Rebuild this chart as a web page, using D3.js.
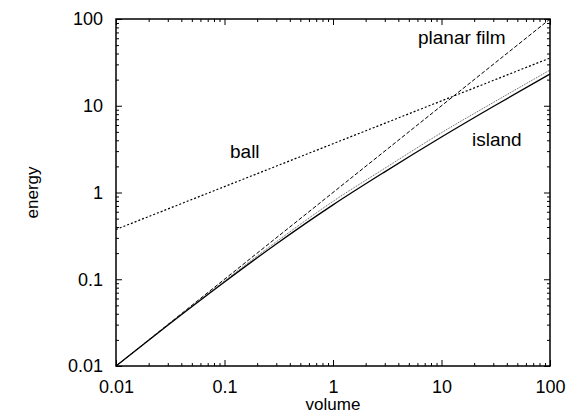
<!DOCTYPE html>
<html>
<head>
<meta charset="utf-8">
<script src="https://cdn.jsdelivr.net/npm/d3@7"></script>
<style>
  body { margin: 0; background: #fff; }
  svg { font-family: "Liberation Sans", Arial, Helvetica, sans-serif; }
  .axis path, .axis line { stroke: #000; }
  .axis text { font-size: 18px; fill: #000; }
</style>
</head>
<body>
<div id="chart"></div>
<script>
// values
var volume = [0.01, 0.03, 0.1, 0.3, 1, 3, 10, 30, 100];
var islandEnergy = [0.01, 0.0295, 0.093, 0.255, 0.72, 1.73, 4.36, 9.8, 23.2];
var approxEnergy = [0.01, 0.0298, 0.096, 0.27, 0.79, 1.9, 4.89, 10.9, 25.8];
var filmVolume = [0.01, 100];
var filmEnergy = [0.01, 100];
var ballVolume = [0.01, 100];
var ballEnergy = [0.375, 35.5];
var majorTicks = [0.01, 0.1, 1, 10, 100];
var tickLabels = ["0.01", "0.1", "1", "10", "100"];

var width = 572,
    height = 415,
    margin = {top: 19, right: 22, bottom: 49, left: 116};

var svg = d3.select("#chart").append("svg")
    .attr("width", width)
    .attr("height", height);

var x = d3.scaleLog().domain([0.01, 100]).range([margin.left, width - margin.right]);
var y = d3.scaleLog().domain([0.01, 100]).range([height - margin.bottom, margin.top]);

var minorTicks = [];
majorTicks.slice(0, -1).forEach(function(d) {
  for (var k = 2; k <= 9; k++) minorTicks.push(d * k);
});

function fmt(d) { return tickLabels[majorTicks.indexOf(d)]; }

// minor ticks on all four sides
svg.append("g").attr("class", "axis")
    .attr("transform", "translate(0," + y.range()[0] + ")")
    .call(d3.axisBottom(x).tickValues(minorTicks).tickSize(-3).tickFormat(""));
svg.append("g").attr("class", "axis")
    .attr("transform", "translate(0," + y.range()[1] + ")")
    .call(d3.axisTop(x).tickValues(minorTicks).tickSize(-3).tickFormat(""));
svg.append("g").attr("class", "axis")
    .attr("transform", "translate(" + x.range()[0] + ",0)")
    .call(d3.axisLeft(y).tickValues(minorTicks).tickSize(-3).tickFormat(""));
svg.append("g").attr("class", "axis")
    .attr("transform", "translate(" + x.range()[1] + ",0)")
    .call(d3.axisRight(y).tickValues(minorTicks).tickSize(-3).tickFormat(""));

// major ticks with labels
var xAxis = svg.append("g").attr("class", "axis")
    .attr("transform", "translate(0," + y.range()[0] + ")")
    .call(d3.axisBottom(x).tickValues(majorTicks).tickSizeInner(-6).tickSizeOuter(0).tickPadding(14).tickFormat(fmt));
svg.append("g").attr("class", "axis")
    .attr("transform", "translate(0," + y.range()[1] + ")")
    .call(d3.axisTop(x).tickValues(majorTicks).tickSizeInner(-6).tickSizeOuter(0).tickFormat(""));
var yAxis = svg.append("g").attr("class", "axis")
    .attr("transform", "translate(" + x.range()[0] + ",0)")
    .call(d3.axisLeft(y).tickValues(majorTicks).tickSizeInner(-6).tickSizeOuter(0).tickPadding(13).tickFormat(fmt));
svg.append("g").attr("class", "axis")
    .attr("transform", "translate(" + x.range()[1] + ",0)")
    .call(d3.axisRight(y).tickValues(majorTicks).tickSizeInner(-6).tickSizeOuter(0).tickFormat(""));

svg.selectAll(".axis .domain").remove();

// frame
svg.append("rect")
    .attr("x", x.range()[0])
    .attr("y", y.range()[1])
    .attr("width", x.range()[1] - x.range()[0])
    .attr("height", y.range()[0] - y.range()[1])
    .attr("fill", "none")
    .attr("stroke", "#000")
    .attr("stroke-width", 1.5);

var line = d3.line()
    .x(function(d) { return x(d[0]); })
    .y(function(d) { return y(d[1]); })
    .curve(d3.curveMonotoneX);

function pairs(xs, ys) { return xs.map(function(v, i) { return [v, ys[i]]; }); }

svg.append("path")
    .attr("d", line(pairs(ballVolume, ballEnergy)))
    .attr("fill", "none").attr("stroke", "#000")
    .attr("stroke-width", 1.2).attr("stroke-dasharray", "2,2");

svg.append("path")
    .attr("d", line(pairs(filmVolume, filmEnergy)))
    .attr("fill", "none").attr("stroke", "#000")
    .attr("stroke-width", 1).attr("stroke-dasharray", "4,2");

svg.append("path")
    .attr("d", line(pairs(volume, approxEnergy)))
    .attr("fill", "none").attr("stroke", "#555")
    .attr("stroke-width", 1).attr("stroke-dasharray", "1,1");

svg.append("path")
    .attr("d", line(pairs(volume, islandEnergy)))
    .attr("fill", "none").attr("stroke", "#000")
    .attr("stroke-width", 1.3);

// curve labels
svg.append("text").attr("x", 418).attr("y", 44).attr("font-size", 19).text("planar film");
svg.append("text").attr("x", 230).attr("y", 158).attr("font-size", 19).text("ball");
svg.append("text").attr("x", 472).attr("y", 146).attr("font-size", 19).text("island");

// axis titles
svg.append("text")
    .attr("x", (x.range()[0] + x.range()[1]) / 2)
    .attr("y", 410)
    .attr("text-anchor", "middle")
    .attr("font-size", 17)
    .text("volume");
svg.append("text")
    .attr("transform", "translate(38," + ((y.range()[0] + y.range()[1]) / 2) + ") rotate(-90)")
    .attr("text-anchor", "middle")
    .attr("font-size", 17)
    .text("energy");
</script>
</body>
</html>
